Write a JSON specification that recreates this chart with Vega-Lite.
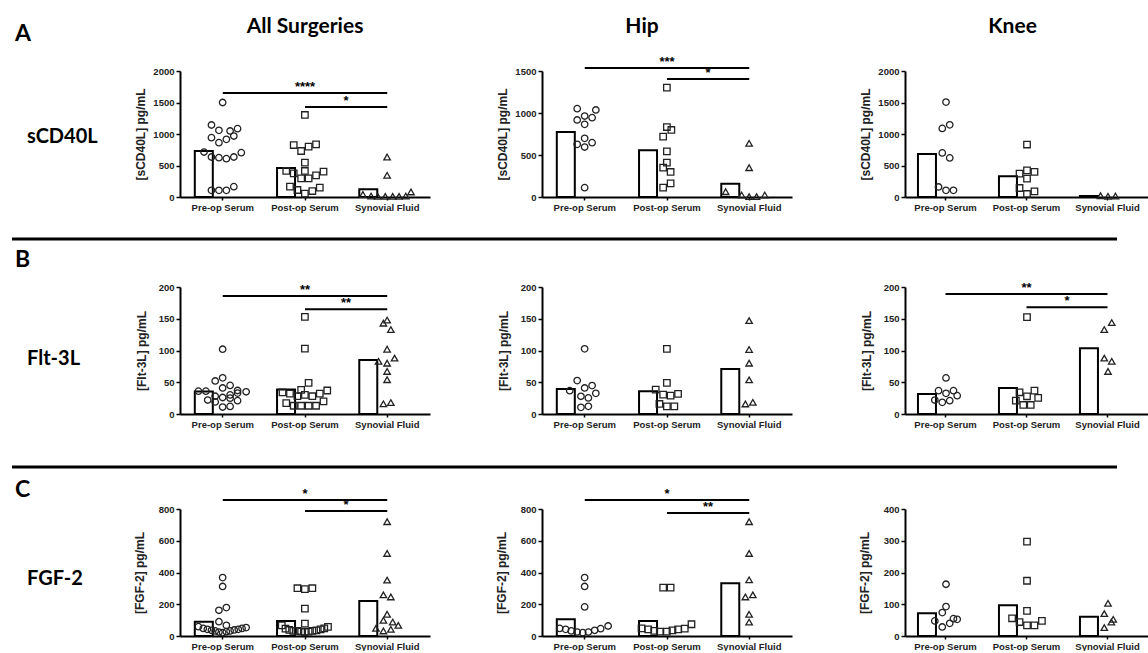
{
"$schema":"https://vega.github.io/schema/vega-lite/v6.json",
"padding":{"left":10,"top":15,"right":0,"bottom":0},
"autosize":{"type":"pad"},
"background":"white",
"config":{
 "view":{"stroke":null},
 "axis":{"grid":false,"domainColor":"black","tickColor":"black","labelFont":"Liberation Sans","labelFontWeight":"bold","labelColor":"#222","titleFont":"Liberation Sans","titleFontWeight":"bold","titleColor":"#222","labelOverlap":false},
 "axisY":{"domainWidth":2,"tickWidth":1.5,"tickSize":4,"labelFontSize":9.5,"labelPadding":2,"titleFontSize":12,"titlePadding":5,"tickCount":10},
 "axisX":{"domainWidth":2,"tickWidth":1.5,"tickSize":3,"labelFontSize":9.5,"labelPadding":2,"labelAngle":0},
 "title":{"font":"Lato","fontWeight":"bold","color":"black"}
},
"datasets":{
"bars":[
{"m":"sCD40L","g":"All","c":"Pre-op Serum","v":730},{"m":"sCD40L","g":"All","c":"Post-op Serum","v":460},{"m":"sCD40L","g":"All","c":"Synovial Fluid","v":122},
{"m":"sCD40L","g":"Hip","c":"Pre-op Serum","v":774},{"m":"sCD40L","g":"Hip","c":"Post-op Serum","v":556},{"m":"sCD40L","g":"Hip","c":"Synovial Fluid","v":159},
{"m":"sCD40L","g":"Knee","c":"Pre-op Serum","v":684},{"m":"sCD40L","g":"Knee","c":"Post-op Serum","v":329},{"m":"sCD40L","g":"Knee","c":"Synovial Fluid","v":16},
{"m":"Flt-3L","g":"All","c":"Pre-op Serum","v":35.3},{"m":"Flt-3L","g":"All","c":"Post-op Serum","v":38.4},{"m":"Flt-3L","g":"All","c":"Synovial Fluid","v":85},
{"m":"Flt-3L","g":"Hip","c":"Pre-op Serum","v":39.5},{"m":"Flt-3L","g":"Hip","c":"Post-op Serum","v":35.8},{"m":"Flt-3L","g":"Hip","c":"Synovial Fluid","v":71},
{"m":"Flt-3L","g":"Knee","c":"Pre-op Serum","v":31.6},{"m":"Flt-3L","g":"Knee","c":"Post-op Serum","v":41},{"m":"Flt-3L","g":"Knee","c":"Synovial Fluid","v":103.7},
{"m":"FGF-2","g":"All","c":"Pre-op Serum","v":90.5},{"m":"FGF-2","g":"All","c":"Post-op Serum","v":94.7},{"m":"FGF-2","g":"All","c":"Synovial Fluid","v":221},
{"m":"FGF-2","g":"Hip","c":"Pre-op Serum","v":105},{"m":"FGF-2","g":"Hip","c":"Post-op Serum","v":95},{"m":"FGF-2","g":"Hip","c":"Synovial Fluid","v":333},
{"m":"FGF-2","g":"Knee","c":"Pre-op Serum","v":71.6},{"m":"FGF-2","g":"Knee","c":"Post-op Serum","v":96.8},{"m":"FGF-2","g":"Knee","c":"Synovial Fluid","v":61}
],
"brk":[
{"m":"sCD40L","g":"All","a":"Pre-op Serum","b":"Synovial Fluid","mid":"Post-op Serum","y":1650,"t":"****","k":"long"},
{"m":"sCD40L","g":"All","a":"Post-op Serum","b":"Synovial Fluid","mid":"Synovial Fluid","y":1430,"t":"*","k":"short"},
{"m":"sCD40L","g":"Hip","a":"Pre-op Serum","b":"Synovial Fluid","mid":"Post-op Serum","y":1536,"t":"***","k":"long"},
{"m":"sCD40L","g":"Hip","a":"Post-op Serum","b":"Synovial Fluid","mid":"Synovial Fluid","y":1405,"t":"*","k":"short"},
{"m":"Flt-3L","g":"All","a":"Pre-op Serum","b":"Synovial Fluid","mid":"Post-op Serum","y":186,"t":"**","k":"long"},
{"m":"Flt-3L","g":"All","a":"Post-op Serum","b":"Synovial Fluid","mid":"Synovial Fluid","y":165,"t":"**","k":"short"},
{"m":"Flt-3L","g":"Knee","a":"Pre-op Serum","b":"Synovial Fluid","mid":"Post-op Serum","y":189,"t":"**","k":"long"},
{"m":"Flt-3L","g":"Knee","a":"Post-op Serum","b":"Synovial Fluid","mid":"Synovial Fluid","y":168,"t":"*","k":"short"},
{"m":"FGF-2","g":"All","a":"Pre-op Serum","b":"Synovial Fluid","mid":"Post-op Serum","y":857,"t":"*","k":"long"},
{"m":"FGF-2","g":"All","a":"Post-op Serum","b":"Synovial Fluid","mid":"Synovial Fluid","y":787,"t":"*","k":"short"},
{"m":"FGF-2","g":"Hip","a":"Pre-op Serum","b":"Synovial Fluid","mid":"Post-op Serum","y":857,"t":"*","k":"long"},
{"m":"FGF-2","g":"Hip","a":"Post-op Serum","b":"Synovial Fluid","mid":"Synovial Fluid","y":775,"t":"**","k":"short"}
],
"pts":[
{"m":"sCD40L","g":"All","c":"Pre-op Serum","v":1500,"s":0},{"m":"sCD40L","g":"All","c":"Pre-op Serum","v":1143,"s":-3},{"m":"sCD40L","g":"All","c":"Pre-op Serum","v":1058,"s":-1},{"m":"sCD40L","g":"All","c":"Pre-op Serum","v":1048,"s":2},{"m":"sCD40L","g":"All","c":"Pre-op Serum","v":1085,"s":4},{"m":"sCD40L","g":"All","c":"Pre-op Serum","v":942,"s":-3},{"m":"sCD40L","g":"All","c":"Pre-op Serum","v":862,"s":-1},{"m":"sCD40L","g":"All","c":"Pre-op Serum","v":915,"s":1},{"m":"sCD40L","g":"All","c":"Pre-op Serum","v":968,"s":3},{"m":"sCD40L","g":"All","c":"Pre-op Serum","v":714,"s":-5},{"m":"sCD40L","g":"All","c":"Pre-op Serum","v":635,"s":-3},{"m":"sCD40L","g":"All","c":"Pre-op Serum","v":624,"s":-1},{"m":"sCD40L","g":"All","c":"Pre-op Serum","v":608,"s":1},{"m":"sCD40L","g":"All","c":"Pre-op Serum","v":635,"s":3},{"m":"sCD40L","g":"All","c":"Pre-op Serum","v":704,"s":5},{"m":"sCD40L","g":"All","c":"Pre-op Serum","v":106,"s":-3},{"m":"sCD40L","g":"All","c":"Pre-op Serum","v":106,"s":-1},{"m":"sCD40L","g":"All","c":"Pre-op Serum","v":106,"s":1},{"m":"sCD40L","g":"All","c":"Pre-op Serum","v":164,"s":3},
{"m":"sCD40L","g":"All","c":"Post-op Serum","v":1302,"s":0},{"m":"sCD40L","g":"All","c":"Post-op Serum","v":825,"s":-3},{"m":"sCD40L","g":"All","c":"Post-op Serum","v":730,"s":-1},{"m":"sCD40L","g":"All","c":"Post-op Serum","v":799,"s":1},{"m":"sCD40L","g":"All","c":"Post-op Serum","v":836,"s":3},{"m":"sCD40L","g":"All","c":"Post-op Serum","v":545,"s":0},{"m":"sCD40L","g":"All","c":"Post-op Serum","v":413,"s":-5},{"m":"sCD40L","g":"All","c":"Post-op Serum","v":376,"s":-3},{"m":"sCD40L","g":"All","c":"Post-op Serum","v":413,"s":0},{"m":"sCD40L","g":"All","c":"Post-op Serum","v":296,"s":-1},{"m":"sCD40L","g":"All","c":"Post-op Serum","v":296,"s":1},{"m":"sCD40L","g":"All","c":"Post-op Serum","v":344,"s":3},{"m":"sCD40L","g":"All","c":"Post-op Serum","v":402,"s":5},{"m":"sCD40L","g":"All","c":"Post-op Serum","v":164,"s":-4},{"m":"sCD40L","g":"All","c":"Post-op Serum","v":111,"s":-2},{"m":"sCD40L","g":"All","c":"Post-op Serum","v":53,"s":0},{"m":"sCD40L","g":"All","c":"Post-op Serum","v":95,"s":2},{"m":"sCD40L","g":"All","c":"Post-op Serum","v":148,"s":4},
{"m":"sCD40L","g":"All","c":"Synovial Fluid","v":635,"s":0},{"m":"sCD40L","g":"All","c":"Synovial Fluid","v":344,"s":0},{"m":"sCD40L","g":"All","c":"Synovial Fluid","v":40,"s":-6.5},{"m":"sCD40L","g":"All","c":"Synovial Fluid","v":15,"s":-4.3},{"m":"sCD40L","g":"All","c":"Synovial Fluid","v":10,"s":-2.5},{"m":"sCD40L","g":"All","c":"Synovial Fluid","v":10,"s":-0.5},{"m":"sCD40L","g":"All","c":"Synovial Fluid","v":10,"s":1.5},{"m":"sCD40L","g":"All","c":"Synovial Fluid","v":10,"s":3.2},{"m":"sCD40L","g":"All","c":"Synovial Fluid","v":15,"s":5},{"m":"sCD40L","g":"All","c":"Synovial Fluid","v":80,"s":6.4},
{"m":"sCD40L","g":"Hip","c":"Pre-op Serum","v":1052,"s":-2},{"m":"sCD40L","g":"Hip","c":"Pre-op Serum","v":1036,"s":3},{"m":"sCD40L","g":"Hip","c":"Pre-op Serum","v":964,"s":0},{"m":"sCD40L","g":"Hip","c":"Pre-op Serum","v":917,"s":-2},{"m":"sCD40L","g":"Hip","c":"Pre-op Serum","v":944,"s":2},{"m":"sCD40L","g":"Hip","c":"Pre-op Serum","v":865,"s":0},{"m":"sCD40L","g":"Hip","c":"Pre-op Serum","v":698,"s":0},{"m":"sCD40L","g":"Hip","c":"Pre-op Serum","v":627,"s":-2},{"m":"sCD40L","g":"Hip","c":"Pre-op Serum","v":647,"s":2},{"m":"sCD40L","g":"Hip","c":"Pre-op Serum","v":595,"s":0},{"m":"sCD40L","g":"Hip","c":"Pre-op Serum","v":111,"s":0},
{"m":"sCD40L","g":"Hip","c":"Post-op Serum","v":1302,"s":0},{"m":"sCD40L","g":"Hip","c":"Post-op Serum","v":833,"s":0},{"m":"sCD40L","g":"Hip","c":"Post-op Serum","v":798,"s":1.2},{"m":"sCD40L","g":"Hip","c":"Post-op Serum","v":718,"s":-1},{"m":"sCD40L","g":"Hip","c":"Post-op Serum","v":544,"s":0},{"m":"sCD40L","g":"Hip","c":"Post-op Serum","v":409,"s":0},{"m":"sCD40L","g":"Hip","c":"Post-op Serum","v":349,"s":-1},{"m":"sCD40L","g":"Hip","c":"Post-op Serum","v":298,"s":1},{"m":"sCD40L","g":"Hip","c":"Post-op Serum","v":163,"s":1},{"m":"sCD40L","g":"Hip","c":"Post-op Serum","v":111,"s":-1},
{"m":"sCD40L","g":"Hip","c":"Synovial Fluid","v":639,"s":0},{"m":"sCD40L","g":"Hip","c":"Synovial Fluid","v":349,"s":0},{"m":"sCD40L","g":"Hip","c":"Synovial Fluid","v":63,"s":-6.3},{"m":"sCD40L","g":"Hip","c":"Synovial Fluid","v":24,"s":-2},{"m":"sCD40L","g":"Hip","c":"Synovial Fluid","v":4,"s":0},{"m":"sCD40L","g":"Hip","c":"Synovial Fluid","v":4,"s":2},{"m":"sCD40L","g":"Hip","c":"Synovial Fluid","v":24,"s":4.2},
{"m":"sCD40L","g":"Knee","c":"Pre-op Serum","v":1507,"s":0},{"m":"sCD40L","g":"Knee","c":"Pre-op Serum","v":1088,"s":-1},{"m":"sCD40L","g":"Knee","c":"Pre-op Serum","v":1146,"s":1},{"m":"sCD40L","g":"Knee","c":"Pre-op Serum","v":700,"s":-1},{"m":"sCD40L","g":"Knee","c":"Pre-op Serum","v":621,"s":1},{"m":"sCD40L","g":"Knee","c":"Pre-op Serum","v":159,"s":-2},{"m":"sCD40L","g":"Knee","c":"Pre-op Serum","v":106,"s":0},{"m":"sCD40L","g":"Knee","c":"Pre-op Serum","v":106,"s":2},
{"m":"sCD40L","g":"Knee","c":"Post-op Serum","v":833,"s":0},{"m":"sCD40L","g":"Knee","c":"Post-op Serum","v":371,"s":-2},{"m":"sCD40L","g":"Knee","c":"Post-op Serum","v":424,"s":0},{"m":"sCD40L","g":"Knee","c":"Post-op Serum","v":398,"s":2},{"m":"sCD40L","g":"Knee","c":"Post-op Serum","v":292,"s":0},{"m":"sCD40L","g":"Knee","c":"Post-op Serum","v":143,"s":-2},{"m":"sCD40L","g":"Knee","c":"Post-op Serum","v":90,"s":2},{"m":"sCD40L","g":"Knee","c":"Post-op Serum","v":48,"s":0},
{"m":"sCD40L","g":"Knee","c":"Synovial Fluid","v":21,"s":-2},{"m":"sCD40L","g":"Knee","c":"Synovial Fluid","v":11,"s":0},{"m":"sCD40L","g":"Knee","c":"Synovial Fluid","v":16,"s":2},
{"m":"Flt-3L","g":"All","c":"Pre-op Serum","v":102,"s":0},{"m":"Flt-3L","g":"All","c":"Pre-op Serum","v":52,"s":-2},{"m":"Flt-3L","g":"All","c":"Pre-op Serum","v":57,"s":0},{"m":"Flt-3L","g":"All","c":"Pre-op Serum","v":45,"s":2},{"m":"Flt-3L","g":"All","c":"Pre-op Serum","v":41,"s":0},{"m":"Flt-3L","g":"All","c":"Pre-op Serum","v":36,"s":-6.5},{"m":"Flt-3L","g":"All","c":"Pre-op Serum","v":36,"s":-4.5},{"m":"Flt-3L","g":"All","c":"Pre-op Serum","v":37,"s":4},{"m":"Flt-3L","g":"All","c":"Pre-op Serum","v":35,"s":6.3},{"m":"Flt-3L","g":"All","c":"Pre-op Serum","v":28,"s":-2},{"m":"Flt-3L","g":"All","c":"Pre-op Serum","v":26,"s":0},{"m":"Flt-3L","g":"All","c":"Pre-op Serum","v":30,"s":2},{"m":"Flt-3L","g":"All","c":"Pre-op Serum","v":33,"s":4},{"m":"Flt-3L","g":"All","c":"Pre-op Serum","v":22,"s":-4},{"m":"Flt-3L","g":"All","c":"Pre-op Serum","v":19,"s":-2},{"m":"Flt-3L","g":"All","c":"Pre-op Serum","v":25,"s":2},{"m":"Flt-3L","g":"All","c":"Pre-op Serum","v":21,"s":4},{"m":"Flt-3L","g":"All","c":"Pre-op Serum","v":11,"s":0},{"m":"Flt-3L","g":"All","c":"Pre-op Serum","v":12,"s":2},
{"m":"Flt-3L","g":"All","c":"Post-op Serum","v":153,"s":0},{"m":"Flt-3L","g":"All","c":"Post-op Serum","v":103,"s":0},{"m":"Flt-3L","g":"All","c":"Post-op Serum","v":49,"s":1},{"m":"Flt-3L","g":"All","c":"Post-op Serum","v":38,"s":-1},{"m":"Flt-3L","g":"All","c":"Post-op Serum","v":34,"s":-6},{"m":"Flt-3L","g":"All","c":"Post-op Serum","v":32,"s":-4},{"m":"Flt-3L","g":"All","c":"Post-op Serum","v":28,"s":-2},{"m":"Flt-3L","g":"All","c":"Post-op Serum","v":30,"s":0},{"m":"Flt-3L","g":"All","c":"Post-op Serum","v":28,"s":2},{"m":"Flt-3L","g":"All","c":"Post-op Serum","v":32,"s":4},{"m":"Flt-3L","g":"All","c":"Post-op Serum","v":37,"s":6},{"m":"Flt-3L","g":"All","c":"Post-op Serum","v":17,"s":-5},{"m":"Flt-3L","g":"All","c":"Post-op Serum","v":13,"s":-3},{"m":"Flt-3L","g":"All","c":"Post-op Serum","v":13,"s":-1},{"m":"Flt-3L","g":"All","c":"Post-op Serum","v":13,"s":1},{"m":"Flt-3L","g":"All","c":"Post-op Serum","v":13,"s":3},{"m":"Flt-3L","g":"All","c":"Post-op Serum","v":20,"s":5},
{"m":"Flt-3L","g":"All","c":"Synovial Fluid","v":143,"s":-1},{"m":"Flt-3L","g":"All","c":"Synovial Fluid","v":148,"s":0},{"m":"Flt-3L","g":"All","c":"Synovial Fluid","v":133,"s":1},{"m":"Flt-3L","g":"All","c":"Synovial Fluid","v":102,"s":0},{"m":"Flt-3L","g":"All","c":"Synovial Fluid","v":83,"s":-2.3},{"m":"Flt-3L","g":"All","c":"Synovial Fluid","v":80,"s":0},{"m":"Flt-3L","g":"All","c":"Synovial Fluid","v":88,"s":2},{"m":"Flt-3L","g":"All","c":"Synovial Fluid","v":67,"s":0},{"m":"Flt-3L","g":"All","c":"Synovial Fluid","v":54,"s":0},{"m":"Flt-3L","g":"All","c":"Synovial Fluid","v":16,"s":-1},{"m":"Flt-3L","g":"All","c":"Synovial Fluid","v":18,"s":1},
{"m":"Flt-3L","g":"Hip","c":"Pre-op Serum","v":102.6,"s":0},{"m":"Flt-3L","g":"Hip","c":"Pre-op Serum","v":52.6,"s":-2},{"m":"Flt-3L","g":"Hip","c":"Pre-op Serum","v":36.8,"s":-4},{"m":"Flt-3L","g":"Hip","c":"Pre-op Serum","v":41,"s":0},{"m":"Flt-3L","g":"Hip","c":"Pre-op Serum","v":44.7,"s":2},{"m":"Flt-3L","g":"Hip","c":"Pre-op Serum","v":32.6,"s":3},{"m":"Flt-3L","g":"Hip","c":"Pre-op Serum","v":27.9,"s":-1},{"m":"Flt-3L","g":"Hip","c":"Pre-op Serum","v":25.3,"s":1},{"m":"Flt-3L","g":"Hip","c":"Pre-op Serum","v":10.5,"s":-1},{"m":"Flt-3L","g":"Hip","c":"Pre-op Serum","v":12.1,"s":1},
{"m":"Flt-3L","g":"Hip","c":"Post-op Serum","v":102.6,"s":0},{"m":"Flt-3L","g":"Hip","c":"Post-op Serum","v":48.9,"s":0},{"m":"Flt-3L","g":"Hip","c":"Post-op Serum","v":38.4,"s":-3},{"m":"Flt-3L","g":"Hip","c":"Post-op Serum","v":30.5,"s":-1},{"m":"Flt-3L","g":"Hip","c":"Post-op Serum","v":28.9,"s":1},{"m":"Flt-3L","g":"Hip","c":"Post-op Serum","v":31.6,"s":3},{"m":"Flt-3L","g":"Hip","c":"Post-op Serum","v":15.8,"s":-2},{"m":"Flt-3L","g":"Hip","c":"Post-op Serum","v":12.1,"s":0},{"m":"Flt-3L","g":"Hip","c":"Post-op Serum","v":12.1,"s":2},
{"m":"Flt-3L","g":"Hip","c":"Synovial Fluid","v":147,"s":0},{"m":"Flt-3L","g":"Hip","c":"Synovial Fluid","v":101.6,"s":0},{"m":"Flt-3L","g":"Hip","c":"Synovial Fluid","v":80,"s":0},{"m":"Flt-3L","g":"Hip","c":"Synovial Fluid","v":53.7,"s":0},{"m":"Flt-3L","g":"Hip","c":"Synovial Fluid","v":15.8,"s":-1},{"m":"Flt-3L","g":"Hip","c":"Synovial Fluid","v":18.4,"s":1},
{"m":"Flt-3L","g":"Knee","c":"Pre-op Serum","v":56.8,"s":0},{"m":"Flt-3L","g":"Knee","c":"Pre-op Serum","v":36.8,"s":-2},{"m":"Flt-3L","g":"Knee","c":"Pre-op Serum","v":32.6,"s":0},{"m":"Flt-3L","g":"Knee","c":"Pre-op Serum","v":36.8,"s":2},{"m":"Flt-3L","g":"Knee","c":"Pre-op Serum","v":28.9,"s":3},{"m":"Flt-3L","g":"Knee","c":"Pre-op Serum","v":22,"s":-3},{"m":"Flt-3L","g":"Knee","c":"Pre-op Serum","v":18.4,"s":-1},{"m":"Flt-3L","g":"Knee","c":"Pre-op Serum","v":21,"s":1},
{"m":"Flt-3L","g":"Knee","c":"Post-op Serum","v":152.6,"s":0},{"m":"Flt-3L","g":"Knee","c":"Post-op Serum","v":36.8,"s":2},{"m":"Flt-3L","g":"Knee","c":"Post-op Serum","v":34.2,"s":-2},{"m":"Flt-3L","g":"Knee","c":"Post-op Serum","v":27.9,"s":0},{"m":"Flt-3L","g":"Knee","c":"Post-op Serum","v":25.3,"s":3},{"m":"Flt-3L","g":"Knee","c":"Post-op Serum","v":21,"s":-3},{"m":"Flt-3L","g":"Knee","c":"Post-op Serum","v":14.2,"s":-1},{"m":"Flt-3L","g":"Knee","c":"Post-op Serum","v":14.2,"s":1},
{"m":"Flt-3L","g":"Knee","c":"Synovial Fluid","v":133,"s":-1},{"m":"Flt-3L","g":"Knee","c":"Synovial Fluid","v":144,"s":1},{"m":"Flt-3L","g":"Knee","c":"Synovial Fluid","v":88,"s":-1},{"m":"Flt-3L","g":"Knee","c":"Synovial Fluid","v":83,"s":1},{"m":"Flt-3L","g":"Knee","c":"Synovial Fluid","v":67,"s":0},
{"m":"FGF-2","g":"All","c":"Pre-op Serum","v":368,"s":0},{"m":"FGF-2","g":"All","c":"Pre-op Serum","v":312,"s":0},{"m":"FGF-2","g":"All","c":"Pre-op Serum","v":162,"s":-1},{"m":"FGF-2","g":"All","c":"Pre-op Serum","v":179,"s":1},{"m":"FGF-2","g":"All","c":"Pre-op Serum","v":90,"s":-1},{"m":"FGF-2","g":"All","c":"Pre-op Serum","v":67,"s":1},{"m":"FGF-2","g":"All","c":"Pre-op Serum","v":59,"s":-6.5},{"m":"FGF-2","g":"All","c":"Pre-op Serum","v":48,"s":-5.2},{"m":"FGF-2","g":"All","c":"Pre-op Serum","v":42,"s":-4.1},{"m":"FGF-2","g":"All","c":"Pre-op Serum","v":36,"s":-3},{"m":"FGF-2","g":"All","c":"Pre-op Serum","v":32,"s":-2},{"m":"FGF-2","g":"All","c":"Pre-op Serum","v":25,"s":-1},{"m":"FGF-2","g":"All","c":"Pre-op Serum","v":21,"s":0},{"m":"FGF-2","g":"All","c":"Pre-op Serum","v":27,"s":1},{"m":"FGF-2","g":"All","c":"Pre-op Serum","v":32,"s":2},{"m":"FGF-2","g":"All","c":"Pre-op Serum","v":38,"s":3.1},{"m":"FGF-2","g":"All","c":"Pre-op Serum","v":42,"s":4.2},{"m":"FGF-2","g":"All","c":"Pre-op Serum","v":48,"s":5.2},{"m":"FGF-2","g":"All","c":"Pre-op Serum","v":53,"s":6.3},
{"m":"FGF-2","g":"All","c":"Post-op Serum","v":301,"s":-2},{"m":"FGF-2","g":"All","c":"Post-op Serum","v":295,"s":0},{"m":"FGF-2","g":"All","c":"Post-op Serum","v":301,"s":2},{"m":"FGF-2","g":"All","c":"Post-op Serum","v":173,"s":0},{"m":"FGF-2","g":"All","c":"Post-op Serum","v":78,"s":0},{"m":"FGF-2","g":"All","c":"Post-op Serum","v":67,"s":-6.2},{"m":"FGF-2","g":"All","c":"Post-op Serum","v":46,"s":-5.2},{"m":"FGF-2","g":"All","c":"Post-op Serum","v":38,"s":-4.2},{"m":"FGF-2","g":"All","c":"Post-op Serum","v":32,"s":-3.1},{"m":"FGF-2","g":"All","c":"Post-op Serum","v":32,"s":-2},{"m":"FGF-2","g":"All","c":"Post-op Serum","v":27,"s":-1},{"m":"FGF-2","g":"All","c":"Post-op Serum","v":25,"s":0},{"m":"FGF-2","g":"All","c":"Post-op Serum","v":27,"s":1},{"m":"FGF-2","g":"All","c":"Post-op Serum","v":32,"s":2},{"m":"FGF-2","g":"All","c":"Post-op Serum","v":36,"s":3.1},{"m":"FGF-2","g":"All","c":"Post-op Serum","v":42,"s":4.2},{"m":"FGF-2","g":"All","c":"Post-op Serum","v":48,"s":5.2},{"m":"FGF-2","g":"All","c":"Post-op Serum","v":57,"s":6.2},
{"m":"FGF-2","g":"All","c":"Synovial Fluid","v":720,"s":0},{"m":"FGF-2","g":"All","c":"Synovial Fluid","v":520,"s":0},{"m":"FGF-2","g":"All","c":"Synovial Fluid","v":352,"s":0},{"m":"FGF-2","g":"All","c":"Synovial Fluid","v":259,"s":-1},{"m":"FGF-2","g":"All","c":"Synovial Fluid","v":246,"s":1},{"m":"FGF-2","g":"All","c":"Synovial Fluid","v":137,"s":0},{"m":"FGF-2","g":"All","c":"Synovial Fluid","v":99,"s":-1},{"m":"FGF-2","g":"All","c":"Synovial Fluid","v":88,"s":1.5},{"m":"FGF-2","g":"All","c":"Synovial Fluid","v":67,"s":3},{"m":"FGF-2","g":"All","c":"Synovial Fluid","v":48,"s":-3},{"m":"FGF-2","g":"All","c":"Synovial Fluid","v":32,"s":-1},{"m":"FGF-2","g":"All","c":"Synovial Fluid","v":42,"s":1},
{"m":"FGF-2","g":"Hip","c":"Pre-op Serum","v":368,"s":0},{"m":"FGF-2","g":"Hip","c":"Pre-op Serum","v":312,"s":0},{"m":"FGF-2","g":"Hip","c":"Pre-op Serum","v":183,"s":0},{"m":"FGF-2","g":"Hip","c":"Pre-op Serum","v":48,"s":-6.7},{"m":"FGF-2","g":"Hip","c":"Pre-op Serum","v":42,"s":-5.1},{"m":"FGF-2","g":"Hip","c":"Pre-op Serum","v":32,"s":-3.6},{"m":"FGF-2","g":"Hip","c":"Pre-op Serum","v":25,"s":-2},{"m":"FGF-2","g":"Hip","c":"Pre-op Serum","v":21,"s":-0.5},{"m":"FGF-2","g":"Hip","c":"Pre-op Serum","v":25,"s":1},{"m":"FGF-2","g":"Hip","c":"Pre-op Serum","v":36,"s":2.7},{"m":"FGF-2","g":"Hip","c":"Pre-op Serum","v":46,"s":4.3},{"m":"FGF-2","g":"Hip","c":"Pre-op Serum","v":63,"s":6.3},
{"m":"FGF-2","g":"Hip","c":"Post-op Serum","v":305,"s":-1},{"m":"FGF-2","g":"Hip","c":"Post-op Serum","v":305,"s":1},{"m":"FGF-2","g":"Hip","c":"Post-op Serum","v":48,"s":-6.8},{"m":"FGF-2","g":"Hip","c":"Post-op Serum","v":42,"s":-5},{"m":"FGF-2","g":"Hip","c":"Post-op Serum","v":32,"s":-3.4},{"m":"FGF-2","g":"Hip","c":"Post-op Serum","v":27,"s":-1.9},{"m":"FGF-2","g":"Hip","c":"Post-op Serum","v":27,"s":0},{"m":"FGF-2","g":"Hip","c":"Post-op Serum","v":36,"s":1.5},{"m":"FGF-2","g":"Hip","c":"Post-op Serum","v":42,"s":3},{"m":"FGF-2","g":"Hip","c":"Post-op Serum","v":46,"s":4.8},{"m":"FGF-2","g":"Hip","c":"Post-op Serum","v":74,"s":6.6},
{"m":"FGF-2","g":"Hip","c":"Synovial Fluid","v":720,"s":0},{"m":"FGF-2","g":"Hip","c":"Synovial Fluid","v":520,"s":0},{"m":"FGF-2","g":"Hip","c":"Synovial Fluid","v":354,"s":0},{"m":"FGF-2","g":"Hip","c":"Synovial Fluid","v":246,"s":-1},{"m":"FGF-2","g":"Hip","c":"Synovial Fluid","v":259,"s":1},{"m":"FGF-2","g":"Hip","c":"Synovial Fluid","v":137,"s":0},{"m":"FGF-2","g":"Hip","c":"Synovial Fluid","v":88,"s":0},
{"m":"FGF-2","g":"Knee","c":"Pre-op Serum","v":163,"s":0},{"m":"FGF-2","g":"Knee","c":"Pre-op Serum","v":92.6,"s":0},{"m":"FGF-2","g":"Knee","c":"Pre-op Serum","v":73.7,"s":-1},{"m":"FGF-2","g":"Knee","c":"Pre-op Serum","v":47.4,"s":-3},{"m":"FGF-2","g":"Knee","c":"Pre-op Serum","v":28.4,"s":-1},{"m":"FGF-2","g":"Knee","c":"Pre-op Serum","v":40,"s":1},{"m":"FGF-2","g":"Knee","c":"Pre-op Serum","v":54.7,"s":2},{"m":"FGF-2","g":"Knee","c":"Pre-op Serum","v":52.6,"s":3},
{"m":"FGF-2","g":"Knee","c":"Post-op Serum","v":297,"s":0},{"m":"FGF-2","g":"Knee","c":"Post-op Serum","v":174,"s":0},{"m":"FGF-2","g":"Knee","c":"Post-op Serum","v":79,"s":0},{"m":"FGF-2","g":"Knee","c":"Post-op Serum","v":55.8,"s":-4},{"m":"FGF-2","g":"Knee","c":"Post-op Serum","v":44,"s":-2},{"m":"FGF-2","g":"Knee","c":"Post-op Serum","v":33.7,"s":0},{"m":"FGF-2","g":"Knee","c":"Post-op Serum","v":33.7,"s":2},{"m":"FGF-2","g":"Knee","c":"Post-op Serum","v":47.4,"s":4},
{"m":"FGF-2","g":"Knee","c":"Synovial Fluid","v":103,"s":0},{"m":"FGF-2","g":"Knee","c":"Synovial Fluid","v":70.5,"s":-1},{"m":"FGF-2","g":"Knee","c":"Synovial Fluid","v":52.6,"s":1.4},{"m":"FGF-2","g":"Knee","c":"Synovial Fluid","v":44,"s":0.9},{"m":"FGF-2","g":"Knee","c":"Synovial Fluid","v":26.3,"s":-1}
]
},
"concat":[
{"width":168,"height":126,"data":{"values":[{"t":"sCD40L"}]},
 "title":{"text":"A","anchor":"start","frame":"group","offset":7,"baseline":"alphabetic","fontSize":23,"dx":3},
 "mark":{"type":"text","font":"Lato","fontWeight":"bold","fontSize":20,"align":"left","baseline":"middle","dx":-69,"dy":3,"color":"black"},
 "encoding":{"text":{"field":"t","type":"nominal"}}},
{"width":250,"height":126,
 "title":{"text":"All Surgeries","frame":"group","offset":12,"baseline":"alphabetic","fontSize":21},
 "layer":[
  {"data":{"name":"bars"},"transform":[{"filter":"datum.m=='sCD40L'&&datum.g=='All'"}],
   "mark":{"type":"bar","width":{"band":0.68},"fill":"white","stroke":"black","strokeWidth":2},
   "encoding":{"x":{"field":"c","type":"nominal","axis":{"title":null},"scale":{"type":"band","domain":["Pre-op Serum","Post-op Serum","Synovial Fluid"],"paddingInner":0,"paddingOuter":0.02}},
    "y":{"field":"v","type":"quantitative","scale":{"domain":[0,2000],"nice":false},"axis":{"title":"[sCD40L] pg/mL","values":[0,500,1000,1500,2000],"format":"d"}}}},
  {"data":{"name":"pts"},"transform":[{"filter":"datum.m=='sCD40L'&&datum.g=='All'"}],
   "mark":{"type":"point","filled":false,"size":42,"strokeWidth":1.3,"color":"#222","opacity":1},
   "encoding":{"x":{"field":"c","type":"nominal"},"xOffset":{"field":"s","type":"quantitative","scale":{"domain":[-11,11],"range":[0,82]}},"y":{"field":"v","type":"quantitative"},
    "shape":{"field":"c","type":"nominal","scale":{"domain":["Pre-op Serum","Post-op Serum","Synovial Fluid"],"range":["circle","square","triangle-up"]},"legend":null}}},
  {"data":{"name":"brk"},"transform":[{"filter":"datum.m=='sCD40L'&&datum.g=='All'"}],
   "mark":{"type":"rule","strokeWidth":2,"color":"black"},
   "encoding":{"x":{"field":"a","type":"nominal","bandPosition":0.5},"x2":{"field":"b","bandPosition":0.5},"y":{"field":"y","type":"quantitative"}}},
  {"data":{"name":"brk"},"transform":[{"filter":"datum.m=='sCD40L'&&datum.g=='All'&&datum.k=='long'"}],
   "mark":{"type":"text","font":"Liberation Sans","fontWeight":"bold","fontSize":13,"baseline":"alphabetic","dy":-2,"color":"black"},
   "encoding":{"x":{"field":"mid","type":"nominal","bandPosition":0.5},"y":{"field":"y","type":"quantitative"},"text":{"field":"t","type":"nominal"}}},
  {"data":{"name":"brk"},"transform":[{"filter":"datum.m=='sCD40L'&&datum.g=='All'&&datum.k=='short'"}],
   "mark":{"type":"text","font":"Liberation Sans","fontWeight":"bold","fontSize":13,"baseline":"alphabetic","dy":-2,"color":"black"},
   "encoding":{"x":{"field":"mid","type":"nominal","bandPosition":0},"y":{"field":"y","type":"quantitative"},"text":{"field":"t","type":"nominal"}}}
 ]},
{"width":250,"height":126,
 "title":{"text":"Hip","frame":"group","offset":2,"baseline":"alphabetic","fontSize":21,"dx":-25},
 "layer":[
  {"data":{"name":"bars"},"transform":[{"filter":"datum.m=='sCD40L'&&datum.g=='Hip'"}],
   "mark":{"type":"bar","width":{"band":0.68},"fill":"white","stroke":"black","strokeWidth":2},
   "encoding":{"x":{"field":"c","type":"nominal","axis":{"title":null},"scale":{"type":"band","domain":["Pre-op Serum","Post-op Serum","Synovial Fluid"],"paddingInner":0,"paddingOuter":0.02}},
    "y":{"field":"v","type":"quantitative","scale":{"domain":[0,1500],"nice":false},"axis":{"title":"[sCD40L] pg/mL","values":[0,500,1000,1500],"format":"d"}}}},
  {"data":{"name":"pts"},"transform":[{"filter":"datum.m=='sCD40L'&&datum.g=='Hip'"}],
   "mark":{"type":"point","filled":false,"size":42,"strokeWidth":1.3,"color":"#222","opacity":1},
   "encoding":{"x":{"field":"c","type":"nominal"},"xOffset":{"field":"s","type":"quantitative","scale":{"domain":[-11,11],"range":[0,82]}},"y":{"field":"v","type":"quantitative"},
    "shape":{"field":"c","type":"nominal","scale":{"domain":["Pre-op Serum","Post-op Serum","Synovial Fluid"],"range":["circle","square","triangle-up"]},"legend":null}}},
  {"data":{"name":"brk"},"transform":[{"filter":"datum.m=='sCD40L'&&datum.g=='Hip'"}],
   "mark":{"type":"rule","strokeWidth":2,"color":"black"},
   "encoding":{"x":{"field":"a","type":"nominal","bandPosition":0.5},"x2":{"field":"b","bandPosition":0.5},"y":{"field":"y","type":"quantitative"}}},
  {"data":{"name":"brk"},"transform":[{"filter":"datum.m=='sCD40L'&&datum.g=='Hip'&&datum.k=='long'"}],
   "mark":{"type":"text","font":"Liberation Sans","fontWeight":"bold","fontSize":13,"baseline":"alphabetic","dy":-2,"color":"black"},
   "encoding":{"x":{"field":"mid","type":"nominal","bandPosition":0.5},"y":{"field":"y","type":"quantitative"},"text":{"field":"t","type":"nominal"}}},
  {"data":{"name":"brk"},"transform":[{"filter":"datum.m=='sCD40L'&&datum.g=='Hip'&&datum.k=='short'"}],
   "mark":{"type":"text","font":"Liberation Sans","fontWeight":"bold","fontSize":13,"baseline":"alphabetic","dy":-2,"color":"black"},
   "encoding":{"x":{"field":"mid","type":"nominal","bandPosition":0},"y":{"field":"y","type":"quantitative"},"text":{"field":"t","type":"nominal"}}}
 ]},
{"width":243,"height":126,
 "title":{"text":"Knee","frame":"group","offset":12,"baseline":"alphabetic","fontSize":21,"dx":-14},
 "layer":[
  {"data":{"name":"bars"},"transform":[{"filter":"datum.m=='sCD40L'&&datum.g=='Knee'"}],
   "mark":{"type":"bar","width":{"band":0.68},"fill":"white","stroke":"black","strokeWidth":2},
   "encoding":{"x":{"field":"c","type":"nominal","axis":{"title":null},"scale":{"type":"band","domain":["Pre-op Serum","Post-op Serum","Synovial Fluid"],"paddingInner":0,"paddingOuter":0}},
    "y":{"field":"v","type":"quantitative","scale":{"domain":[0,2000],"nice":false},"axis":{"title":"[sCD40L] pg/mL","values":[0,500,1000,1500,2000],"format":"d"}}}},
  {"data":{"name":"pts"},"transform":[{"filter":"datum.m=='sCD40L'&&datum.g=='Knee'"}],
   "mark":{"type":"point","filled":false,"size":42,"strokeWidth":1.3,"color":"#222","opacity":1},
   "encoding":{"x":{"field":"c","type":"nominal"},"xOffset":{"field":"s","type":"quantitative","scale":{"domain":[-11,11],"range":[0,82]}},"y":{"field":"v","type":"quantitative"},
    "shape":{"field":"c","type":"nominal","scale":{"domain":["Pre-op Serum","Post-op Serum","Synovial Fluid"],"range":["circle","square","triangle-up"]},"legend":null}}}
 ]},
{"width":168,"height":90,"data":{"values":[{}]},"mark":{"type":"rule","strokeWidth":3,"color":"black"},"encoding":{"y":{"datum":0.533,"type":"quantitative","scale":{"domain":[0,1]},"axis":null}}},
{"width":362,"height":90,"data":{"values":[{}]},"mark":{"type":"rule","strokeWidth":3,"color":"black"},"encoding":{"y":{"datum":0.533,"type":"quantitative","scale":{"domain":[0,1]},"axis":null}}},
{"width":363,"height":90,"data":{"values":[{}]},"mark":{"type":"rule","strokeWidth":3,"color":"black"},"encoding":{"y":{"datum":0.533,"type":"quantitative","scale":{"domain":[0,1]},"axis":null}}},
{"width":212,"height":90,"data":{"values":[{}]},"mark":{"type":"rule","strokeWidth":3,"color":"black"},"encoding":{"y":{"datum":0.533,"type":"quantitative","scale":{"domain":[0,1]},"axis":null}}},
{"width":168,"height":127,"data":{"values":[{"t":"Flt-3L"}]},
 "title":{"text":"B","anchor":"start","frame":"group","offset":-3,"baseline":"alphabetic","fontSize":23,"dx":3},
 "mark":{"type":"text","font":"Lato","fontWeight":"bold","fontSize":20,"align":"left","baseline":"middle","dx":-69,"dy":8,"color":"black"},
 "encoding":{"text":{"field":"t","type":"nominal"}}},
{"width":250,"height":127,
 "layer":[
  {"data":{"name":"bars"},"transform":[{"filter":"datum.m=='Flt-3L'&&datum.g=='All'"}],
   "mark":{"type":"bar","width":{"band":0.68},"fill":"white","stroke":"black","strokeWidth":2},
   "encoding":{"x":{"field":"c","type":"nominal","axis":{"title":null},"scale":{"type":"band","domain":["Pre-op Serum","Post-op Serum","Synovial Fluid"],"paddingInner":0,"paddingOuter":0.02}},
    "y":{"field":"v","type":"quantitative","scale":{"domain":[0,200],"nice":false},"axis":{"title":"[Flt-3L] pg/mL","values":[0,50,100,150,200],"format":"d","titlePadding":10}}}},
  {"data":{"name":"pts"},"transform":[{"filter":"datum.m=='Flt-3L'&&datum.g=='All'"}],
   "mark":{"type":"point","filled":false,"size":42,"strokeWidth":1.3,"color":"#222","opacity":1},
   "encoding":{"x":{"field":"c","type":"nominal"},"xOffset":{"field":"s","type":"quantitative","scale":{"domain":[-11,11],"range":[0,82]}},"y":{"field":"v","type":"quantitative"},
    "shape":{"field":"c","type":"nominal","scale":{"domain":["Pre-op Serum","Post-op Serum","Synovial Fluid"],"range":["circle","square","triangle-up"]},"legend":null}}},
  {"data":{"name":"brk"},"transform":[{"filter":"datum.m=='Flt-3L'&&datum.g=='All'"}],
   "mark":{"type":"rule","strokeWidth":2,"color":"black"},
   "encoding":{"x":{"field":"a","type":"nominal","bandPosition":0.5},"x2":{"field":"b","bandPosition":0.5},"y":{"field":"y","type":"quantitative"}}},
  {"data":{"name":"brk"},"transform":[{"filter":"datum.m=='Flt-3L'&&datum.g=='All'&&datum.k=='long'"}],
   "mark":{"type":"text","font":"Liberation Sans","fontWeight":"bold","fontSize":13,"baseline":"alphabetic","dy":-2,"color":"black"},
   "encoding":{"x":{"field":"mid","type":"nominal","bandPosition":0.5},"y":{"field":"y","type":"quantitative"},"text":{"field":"t","type":"nominal"}}},
  {"data":{"name":"brk"},"transform":[{"filter":"datum.m=='Flt-3L'&&datum.g=='All'&&datum.k=='short'"}],
   "mark":{"type":"text","font":"Liberation Sans","fontWeight":"bold","fontSize":13,"baseline":"alphabetic","dy":-2,"color":"black"},
   "encoding":{"x":{"field":"mid","type":"nominal","bandPosition":0},"y":{"field":"y","type":"quantitative"},"text":{"field":"t","type":"nominal"}}}
 ]},
{"width":250,"height":127,
 "layer":[
  {"data":{"name":"bars"},"transform":[{"filter":"datum.m=='Flt-3L'&&datum.g=='Hip'"}],
   "mark":{"type":"bar","width":{"band":0.68},"fill":"white","stroke":"black","strokeWidth":2},
   "encoding":{"x":{"field":"c","type":"nominal","axis":{"title":null},"scale":{"type":"band","domain":["Pre-op Serum","Post-op Serum","Synovial Fluid"],"paddingInner":0,"paddingOuter":0.02}},
    "y":{"field":"v","type":"quantitative","scale":{"domain":[0,200],"nice":false},"axis":{"title":"[Flt-3L] pg/mL","values":[0,50,100,150,200],"format":"d","titlePadding":10}}}},
  {"data":{"name":"pts"},"transform":[{"filter":"datum.m=='Flt-3L'&&datum.g=='Hip'"}],
   "mark":{"type":"point","filled":false,"size":42,"strokeWidth":1.3,"color":"#222","opacity":1},
   "encoding":{"x":{"field":"c","type":"nominal"},"xOffset":{"field":"s","type":"quantitative","scale":{"domain":[-11,11],"range":[0,82]}},"y":{"field":"v","type":"quantitative"},
    "shape":{"field":"c","type":"nominal","scale":{"domain":["Pre-op Serum","Post-op Serum","Synovial Fluid"],"range":["circle","square","triangle-up"]},"legend":null}}}
 ]},
{"width":243,"height":127,
 "layer":[
  {"data":{"name":"bars"},"transform":[{"filter":"datum.m=='Flt-3L'&&datum.g=='Knee'"}],
   "mark":{"type":"bar","width":{"band":0.68},"fill":"white","stroke":"black","strokeWidth":2},
   "encoding":{"x":{"field":"c","type":"nominal","axis":{"title":null},"scale":{"type":"band","domain":["Pre-op Serum","Post-op Serum","Synovial Fluid"],"paddingInner":0,"paddingOuter":0}},
    "y":{"field":"v","type":"quantitative","scale":{"domain":[0,200],"nice":false},"axis":{"title":"[Flt-3L] pg/mL","values":[0,50,100,150,200],"format":"d","titlePadding":10}}}},
  {"data":{"name":"pts"},"transform":[{"filter":"datum.m=='Flt-3L'&&datum.g=='Knee'"}],
   "mark":{"type":"point","filled":false,"size":42,"strokeWidth":1.3,"color":"#222","opacity":1},
   "encoding":{"x":{"field":"c","type":"nominal"},"xOffset":{"field":"s","type":"quantitative","scale":{"domain":[-11,11],"range":[0,82]}},"y":{"field":"v","type":"quantitative"},
    "shape":{"field":"c","type":"nominal","scale":{"domain":["Pre-op Serum","Post-op Serum","Synovial Fluid"],"range":["circle","square","triangle-up"]},"legend":null}}},
  {"data":{"name":"brk"},"transform":[{"filter":"datum.m=='Flt-3L'&&datum.g=='Knee'"}],
   "mark":{"type":"rule","strokeWidth":2,"color":"black"},
   "encoding":{"x":{"field":"a","type":"nominal","bandPosition":0.5},"x2":{"field":"b","bandPosition":0.5},"y":{"field":"y","type":"quantitative"}}},
  {"data":{"name":"brk"},"transform":[{"filter":"datum.m=='Flt-3L'&&datum.g=='Knee'&&datum.k=='long'"}],
   "mark":{"type":"text","font":"Liberation Sans","fontWeight":"bold","fontSize":13,"baseline":"alphabetic","dy":-2,"color":"black"},
   "encoding":{"x":{"field":"mid","type":"nominal","bandPosition":0.5},"y":{"field":"y","type":"quantitative"},"text":{"field":"t","type":"nominal"}}},
  {"data":{"name":"brk"},"transform":[{"filter":"datum.m=='Flt-3L'&&datum.g=='Knee'&&datum.k=='short'"}],
   "mark":{"type":"text","font":"Liberation Sans","fontWeight":"bold","fontSize":13,"baseline":"alphabetic","dy":-2,"color":"black"},
   "encoding":{"x":{"field":"mid","type":"nominal","bandPosition":0},"y":{"field":"y","type":"quantitative"},"text":{"field":"t","type":"nominal"}}}
 ]},
{"width":168,"height":95,"data":{"values":[{}]},"mark":{"type":"rule","strokeWidth":3,"color":"black"},"encoding":{"y":{"datum":0.442,"type":"quantitative","scale":{"domain":[0,1]},"axis":null}}},
{"width":362,"height":95,"data":{"values":[{}]},"mark":{"type":"rule","strokeWidth":3,"color":"black"},"encoding":{"y":{"datum":0.442,"type":"quantitative","scale":{"domain":[0,1]},"axis":null}}},
{"width":363,"height":95,"data":{"values":[{}]},"mark":{"type":"rule","strokeWidth":3,"color":"black"},"encoding":{"y":{"datum":0.442,"type":"quantitative","scale":{"domain":[0,1]},"axis":null}}},
{"width":212,"height":95,"data":{"values":[{}]},"mark":{"type":"rule","strokeWidth":3,"color":"black"},"encoding":{"y":{"datum":0.442,"type":"quantitative","scale":{"domain":[0,1]},"axis":null}}},
{"width":168,"height":127,"data":{"values":[{"t":"FGF-2"}]},
 "title":{"text":"C","anchor":"start","frame":"group","offset":-11,"baseline":"alphabetic","fontSize":23,"dx":3},
 "mark":{"type":"text","font":"Lato","fontWeight":"bold","fontSize":20,"align":"left","baseline":"middle","dx":-69,"dy":6,"color":"black"},
 "encoding":{"text":{"field":"t","type":"nominal"}}},
{"width":250,"height":127,
 "layer":[
  {"data":{"name":"bars"},"transform":[{"filter":"datum.m=='FGF-2'&&datum.g=='All'"}],
   "mark":{"type":"bar","width":{"band":0.68},"fill":"white","stroke":"black","strokeWidth":2},
   "encoding":{"x":{"field":"c","type":"nominal","axis":{"title":null},"scale":{"type":"band","domain":["Pre-op Serum","Post-op Serum","Synovial Fluid"],"paddingInner":0,"paddingOuter":0.02}},
    "y":{"field":"v","type":"quantitative","scale":{"domain":[0,800],"nice":false},"axis":{"title":"[FGF-2] pg/mL","values":[0,200,400,600,800],"format":"d","titlePadding":12}}}},
  {"data":{"name":"pts"},"transform":[{"filter":"datum.m=='FGF-2'&&datum.g=='All'"}],
   "mark":{"type":"point","filled":false,"size":42,"strokeWidth":1.3,"color":"#222","opacity":1},
   "encoding":{"x":{"field":"c","type":"nominal"},"xOffset":{"field":"s","type":"quantitative","scale":{"domain":[-11,11],"range":[0,82]}},"y":{"field":"v","type":"quantitative"},
    "shape":{"field":"c","type":"nominal","scale":{"domain":["Pre-op Serum","Post-op Serum","Synovial Fluid"],"range":["circle","square","triangle-up"]},"legend":null}}},
  {"data":{"name":"brk"},"transform":[{"filter":"datum.m=='FGF-2'&&datum.g=='All'"}],
   "mark":{"type":"rule","strokeWidth":2,"color":"black"},
   "encoding":{"x":{"field":"a","type":"nominal","bandPosition":0.5},"x2":{"field":"b","bandPosition":0.5},"y":{"field":"y","type":"quantitative"}}},
  {"data":{"name":"brk"},"transform":[{"filter":"datum.m=='FGF-2'&&datum.g=='All'&&datum.k=='long'"}],
   "mark":{"type":"text","font":"Liberation Sans","fontWeight":"bold","fontSize":13,"baseline":"alphabetic","dy":-2,"color":"black"},
   "encoding":{"x":{"field":"mid","type":"nominal","bandPosition":0.5},"y":{"field":"y","type":"quantitative"},"text":{"field":"t","type":"nominal"}}},
  {"data":{"name":"brk"},"transform":[{"filter":"datum.m=='FGF-2'&&datum.g=='All'&&datum.k=='short'"}],
   "mark":{"type":"text","font":"Liberation Sans","fontWeight":"bold","fontSize":13,"baseline":"alphabetic","dy":-2,"color":"black"},
   "encoding":{"x":{"field":"mid","type":"nominal","bandPosition":0},"y":{"field":"y","type":"quantitative"},"text":{"field":"t","type":"nominal"}}}
 ]},
{"width":250,"height":127,
 "layer":[
  {"data":{"name":"bars"},"transform":[{"filter":"datum.m=='FGF-2'&&datum.g=='Hip'"}],
   "mark":{"type":"bar","width":{"band":0.68},"fill":"white","stroke":"black","strokeWidth":2},
   "encoding":{"x":{"field":"c","type":"nominal","axis":{"title":null},"scale":{"type":"band","domain":["Pre-op Serum","Post-op Serum","Synovial Fluid"],"paddingInner":0,"paddingOuter":0.02}},
    "y":{"field":"v","type":"quantitative","scale":{"domain":[0,800],"nice":false},"axis":{"title":"[FGF-2] pg/mL","values":[0,200,400,600,800],"format":"d","titlePadding":12}}}},
  {"data":{"name":"pts"},"transform":[{"filter":"datum.m=='FGF-2'&&datum.g=='Hip'"}],
   "mark":{"type":"point","filled":false,"size":42,"strokeWidth":1.3,"color":"#222","opacity":1},
   "encoding":{"x":{"field":"c","type":"nominal"},"xOffset":{"field":"s","type":"quantitative","scale":{"domain":[-11,11],"range":[0,82]}},"y":{"field":"v","type":"quantitative"},
    "shape":{"field":"c","type":"nominal","scale":{"domain":["Pre-op Serum","Post-op Serum","Synovial Fluid"],"range":["circle","square","triangle-up"]},"legend":null}}},
  {"data":{"name":"brk"},"transform":[{"filter":"datum.m=='FGF-2'&&datum.g=='Hip'"}],
   "mark":{"type":"rule","strokeWidth":2,"color":"black"},
   "encoding":{"x":{"field":"a","type":"nominal","bandPosition":0.5},"x2":{"field":"b","bandPosition":0.5},"y":{"field":"y","type":"quantitative"}}},
  {"data":{"name":"brk"},"transform":[{"filter":"datum.m=='FGF-2'&&datum.g=='Hip'&&datum.k=='long'"}],
   "mark":{"type":"text","font":"Liberation Sans","fontWeight":"bold","fontSize":13,"baseline":"alphabetic","dy":-2,"color":"black"},
   "encoding":{"x":{"field":"mid","type":"nominal","bandPosition":0.5},"y":{"field":"y","type":"quantitative"},"text":{"field":"t","type":"nominal"}}},
  {"data":{"name":"brk"},"transform":[{"filter":"datum.m=='FGF-2'&&datum.g=='Hip'&&datum.k=='short'"}],
   "mark":{"type":"text","font":"Liberation Sans","fontWeight":"bold","fontSize":13,"baseline":"alphabetic","dy":-2,"color":"black"},
   "encoding":{"x":{"field":"mid","type":"nominal","bandPosition":0},"y":{"field":"y","type":"quantitative"},"text":{"field":"t","type":"nominal"}}}
 ]},
{"width":243,"height":127,
 "layer":[
  {"data":{"name":"bars"},"transform":[{"filter":"datum.m=='FGF-2'&&datum.g=='Knee'"}],
   "mark":{"type":"bar","width":{"band":0.68},"fill":"white","stroke":"black","strokeWidth":2},
   "encoding":{"x":{"field":"c","type":"nominal","axis":{"title":null},"scale":{"type":"band","domain":["Pre-op Serum","Post-op Serum","Synovial Fluid"],"paddingInner":0,"paddingOuter":0}},
    "y":{"field":"v","type":"quantitative","scale":{"domain":[0,400],"nice":false},"axis":{"title":"[FGF-2] pg/mL","values":[0,100,200,300,400],"format":"d","titlePadding":12}}}},
  {"data":{"name":"pts"},"transform":[{"filter":"datum.m=='FGF-2'&&datum.g=='Knee'"}],
   "mark":{"type":"point","filled":false,"size":42,"strokeWidth":1.3,"color":"#222","opacity":1},
   "encoding":{"x":{"field":"c","type":"nominal"},"xOffset":{"field":"s","type":"quantitative","scale":{"domain":[-11,11],"range":[0,82]}},"y":{"field":"v","type":"quantitative"},
    "shape":{"field":"c","type":"nominal","scale":{"domain":["Pre-op Serum","Post-op Serum","Synovial Fluid"],"range":["circle","square","triangle-up"]},"legend":null}}}
 ]}
],
"columns":4,
"spacing":0,
"bounds":"flush",
"resolve":{"scale":{"x":"independent","y":"independent"}}
}
